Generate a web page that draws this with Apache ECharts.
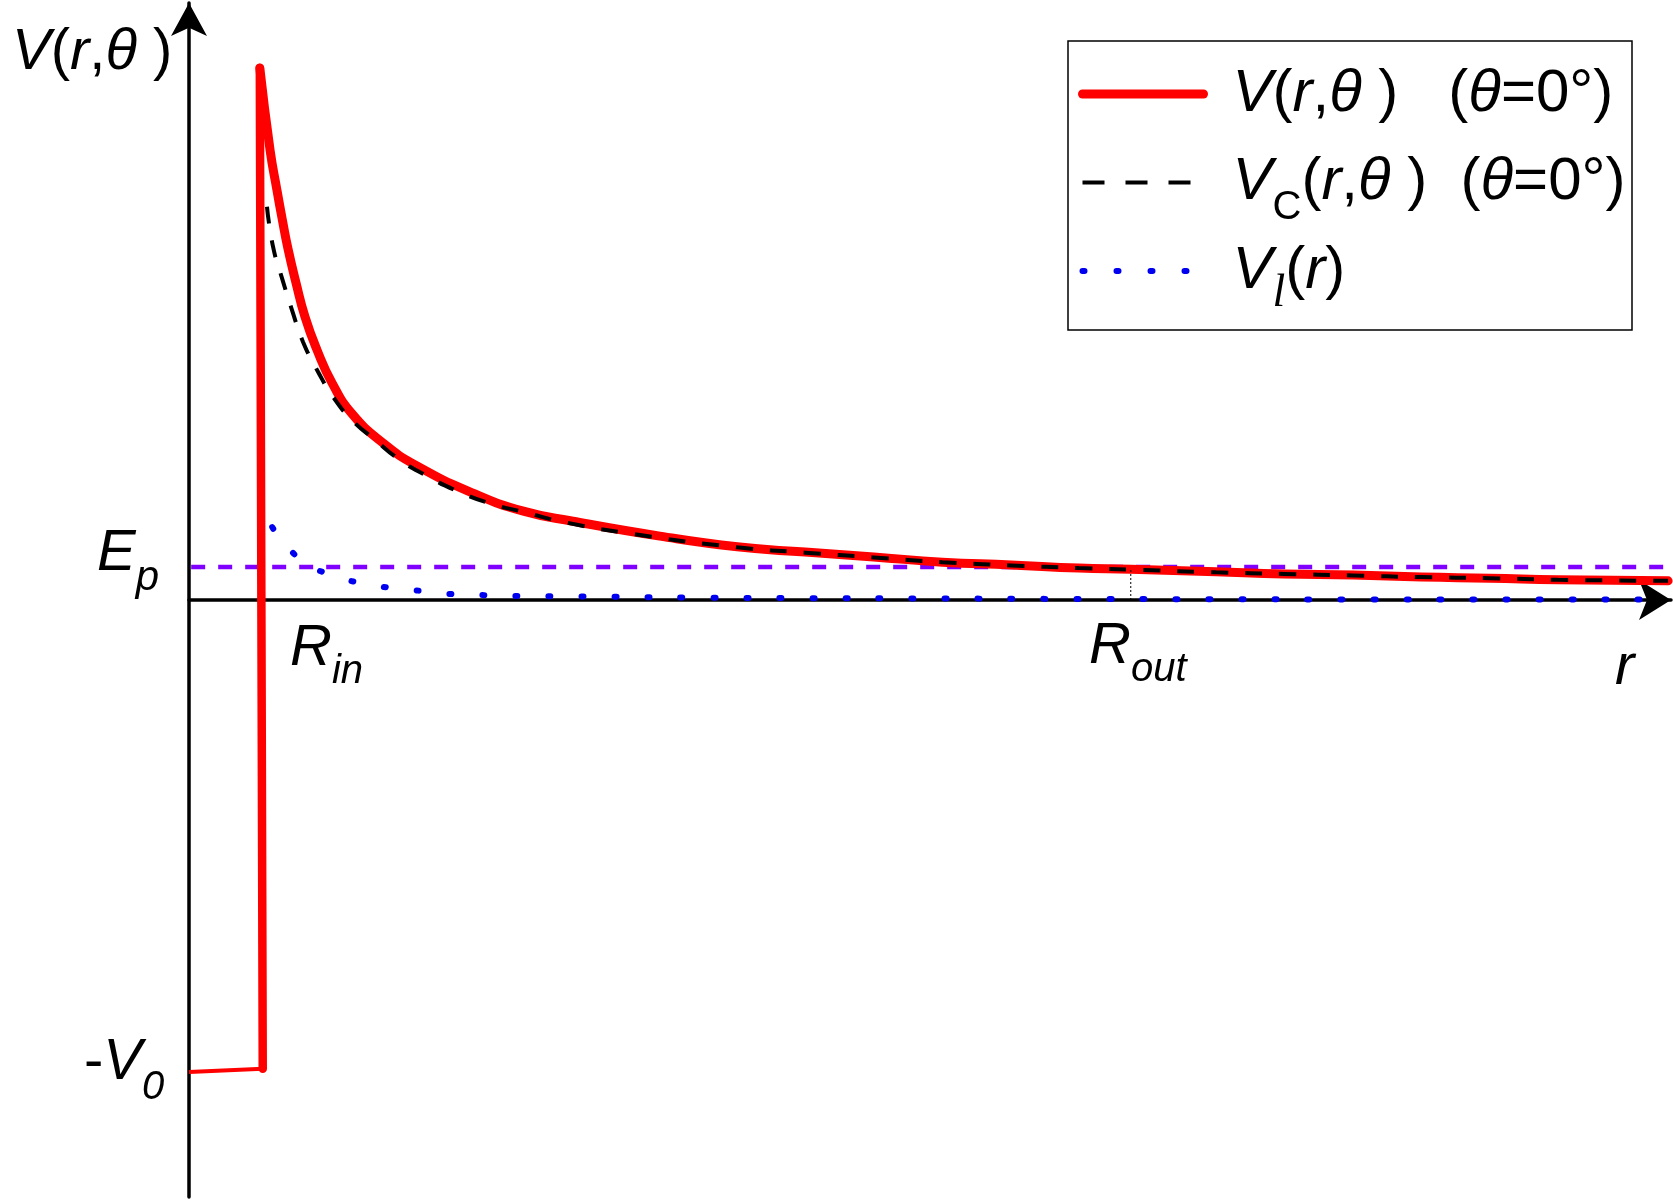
<!DOCTYPE html>
<html><head><meta charset="utf-8">
<script src="https://cdn.jsdelivr.net/npm/echarts@6/dist/echarts.min.js"></script>
<style>html,body{margin:0;padding:0;background:#fff}#c{width:1673px;height:1201px}</style>
</head><body><div id="c"></div>
<script>
// ---- data (r in units of R_in, V in units where barrier peak = 10) ----
const wellR  = [0, 1.01];
const wellV  = [-8.87, -8.81];

const spikeR = [1.01, 0.97];
const spikeV = [-8.81, 10.0];

const totalR = [0.97, 1.11, 1.205, 1.274, 1.356, 1.466, 1.589, 1.753, 1.959, 2.233, 2.658, 3.123, 3.89, 4.58, 5.26, 6.45, 7.51, 8.44, 9.38, 10.32, 11.26, 12.19, 12.90, 14.07, 15.00, 15.95, 16.88, 17.82, 18.75, 20.26];
const totalV = [10.0, 8.46, 7.70, 7.18, 6.60, 5.96, 5.32, 4.70, 4.08, 3.50, 2.95, 2.52, 2.01, 1.67, 1.48, 1.20, 1.00, 0.90, 0.81, 0.71, 0.66, 0.60, 0.58, 0.53, 0.49, 0.47, 0.43, 0.41, 0.38, 0.36];

const coulR  = [1.068, 1.151, 1.274, 1.411, 1.562, 1.767, 1.973, 2.233, 2.548, 2.890, 3.233, 3.67, 4.16, 4.63, 5.08, 6.08, 7.51, 8.44, 9.38, 10.32, 11.26, 12.19, 12.90, 14.07, 15.00, 15.95, 16.88, 17.82, 18.75, 20.26];
const coulV  = [7.39, 6.64, 6.05, 5.45, 4.85, 4.29, 3.82, 3.38, 3.01, 2.63, 2.35, 2.05, 1.80, 1.64, 1.48, 1.24, 0.99, 0.89, 0.80, 0.71, 0.65, 0.60, 0.57, 0.52, 0.49, 0.46, 0.43, 0.41, 0.38, 0.36];

const centR  = [1.14, 1.36, 1.63, 1.96, 2.34, 2.75, 3.19, 3.62, 4.08, 4.53, 4.99, 5.81, 7.00, 8.50, 10.0, 12.0, 14.0, 16.0, 18.0, 20.26];
const centV  = [1.37, 0.98, 0.66, 0.47, 0.32, 0.23, 0.17, 0.11, 0.09, 0.075, 0.07, 0.06, 0.045, 0.035, 0.03, 0.02, 0.015, 0.01, 0.01, 0.01];

const epR    = [0.03, 20.4];
const epV    = [0.62, 0.62];
const RoutR  = [12.90, 12.90];
const RoutV  = [0, 0.58];

const seriesNames = ['V(r,θ)', 'VC(r,θ)', 'Vl(r)'];
const legendLabels = {
  'V(r,θ)':  '{i|V}{n|(}{i|r}{n|,}{t|θ}{n| )   (}{t|θ}{n|=0°)}{s| }',
  'VC(r,θ)': '{i|V}{s|C}{n|(}{i|r}{n|,}{t|θ}{n| )  (}{t|θ}{n|=0°)}',
  'Vl(r)':   '{i|V}{sl|l}{n|(}{i|r}{n|)}'
};

const zip = (a, b) => a.map((v, i) => [v, b[i]]);

const SANS = 'Liberation Sans';
const mainStyles = (f, lh) => ({
  i: {fontFamily: SANS, fontStyle: 'italic', fontSize: f, lineHeight: lh, color: '#000'},
  n: {fontFamily: SANS, fontSize: f, lineHeight: lh, color: '#000'},
  t: {fontFamily: SANS, fontStyle: 'italic', fontSize: f, lineHeight: lh, color: '#000'}
});

const chart = echarts.init(document.getElementById('c'), null, {renderer: 'canvas'});

function lbl(x, y, text, lh, subSize) {
  const rich = mainStyles(58, lh);
  rich.s = {fontFamily: SANS, fontStyle: 'italic', fontSize: subSize || 40, lineHeight: 20, verticalAlign: 'bottom', color: '#000'};
  return {
    type: 'text', x: x, y: y, z: 100,
    style: {text: text, align: 'left', verticalAlign: 'middle', fill: '#000', rich: rich}
  };
}

const LEG_LH = 91;
const option = {
  animation: false,
  backgroundColor: '#fff',
  grid: {left: 189, right: 2, top: 3, bottom: 4, containLabel: false},
  xAxis: {
    type: 'value', min: 0, max: 20.3,
    axisLine: {onZero: true, lineStyle: {color: '#000', width: 3.5},
      symbol: ['none', 'arrow'], symbolSize: [30, 32]},
    axisTick: {show: false}, axisLabel: {show: false}, splitLine: {show: false}
  },
  yAxis: {
    type: 'value', min: -11.22, max: 11.22,
    axisLine: {onZero: true, lineStyle: {color: '#000', width: 3.5},
      symbol: ['none', 'arrow'], symbolSize: [27, 33]},
    axisTick: {show: false}, axisLabel: {show: false}, splitLine: {show: false}
  },
  legend: {
    left: 1078, top: 64, orient: 'vertical', padding: 0, itemGap: 13,
    itemWidth: 121, itemHeight: 20, selectedMode: false, z: 20,
    itemStyle: {opacity: 0},
    data: [
      {name: seriesNames[0], lineStyle: {width: 9, cap: 'round', color: '#ff0000'}},
      {name: seriesNames[1], lineStyle: {width: 4, type: [22, 21], color: '#000'}},
      {name: seriesNames[2], lineStyle: {width: 6, type: [2, 32], cap: 'round', color: '#0000f0'}}
    ],
    formatter: (name) => legendLabels[name],
    textStyle: {
      padding: [0, 0, 0, 24],
      rich: Object.assign(mainStyles(60, LEG_LH), {
        s:  {fontFamily: SANS, fontSize: 40, lineHeight: 20, verticalAlign: 'bottom', color: '#000'},
        sl: {fontFamily: 'Liberation Serif', fontStyle: 'italic', fontSize: 46, lineHeight: 20, verticalAlign: 'bottom', color: '#000'}
      })
    }
  },
  graphic: [
    {type: 'rect', shape: {x: 1068, y: 41, width: 564, height: 289}, z: 10,
     style: {fill: '#fff', stroke: '#000', lineWidth: 1.5}},
    lbl(12, 53, '{i|V}{n|(}{i|r}{n|,}{t|θ}{n| )}', 70),
    lbl(97, 554, '{i|E}{s|p}', 90, 42),
    lbl(84, 1063, '{n|-}{i|V}{s|0}', 89, 40),
    lbl(290, 649, '{i|R}{s|in}', 85, 40),
    lbl(1089, 647, '{i|R}{s|out}', 85, 40),
    lbl(1615, 668, '{i|r}', 70)
  ],
  series: [
    {type: 'line', name: 'Ep', data: zip(epR, epV), symbol: 'none', clip: false, z: 2,
     lineStyle: {color: '#7f00ff', width: 4.5, type: [14, 13]}},
    {type: 'line', name: 'well', data: zip(wellR, wellV), symbol: 'none', z: 3,
     lineStyle: {color: '#ff0000', width: 4}},
    {type: 'line', name: seriesNames[0], data: zip(spikeR, spikeV), symbol: 'none', z: 3,
     lineStyle: {color: '#ff0000', width: 8.5, cap: 'round', join: 'round'}, itemStyle: {color: '#ff0000'}},
    {type: 'line', name: seriesNames[0], data: zip(totalR, totalV), symbol: 'none', z: 3,
     smooth: 0.5,
     lineStyle: {color: '#ff0000', width: 9, cap: 'round', join: 'round'}, itemStyle: {color: '#ff0000'}},
    {type: 'line', name: 'Rout', data: zip(RoutR, RoutV), symbol: 'none', z: 4,
     lineStyle: {color: '#000', width: 1, type: [2, 2]}},
    {type: 'line', name: seriesNames[1], data: zip(coulR, coulV), symbol: 'none', z: 4,
     smooth: 0.5,
     lineStyle: {color: '#000', width: 4, type: [17, 17]}, itemStyle: {color: '#000'}},
    {type: 'line', name: seriesNames[2], data: zip(centR, centV), symbol: 'none', z: 5,
     smooth: 0.5,
     lineStyle: {color: '#0000f0', width: 6, type: [2, 31], cap: 'round'}, itemStyle: {color: '#0000f0'}}
  ]
};
chart.setOption(option);
</script>
</body></html>
